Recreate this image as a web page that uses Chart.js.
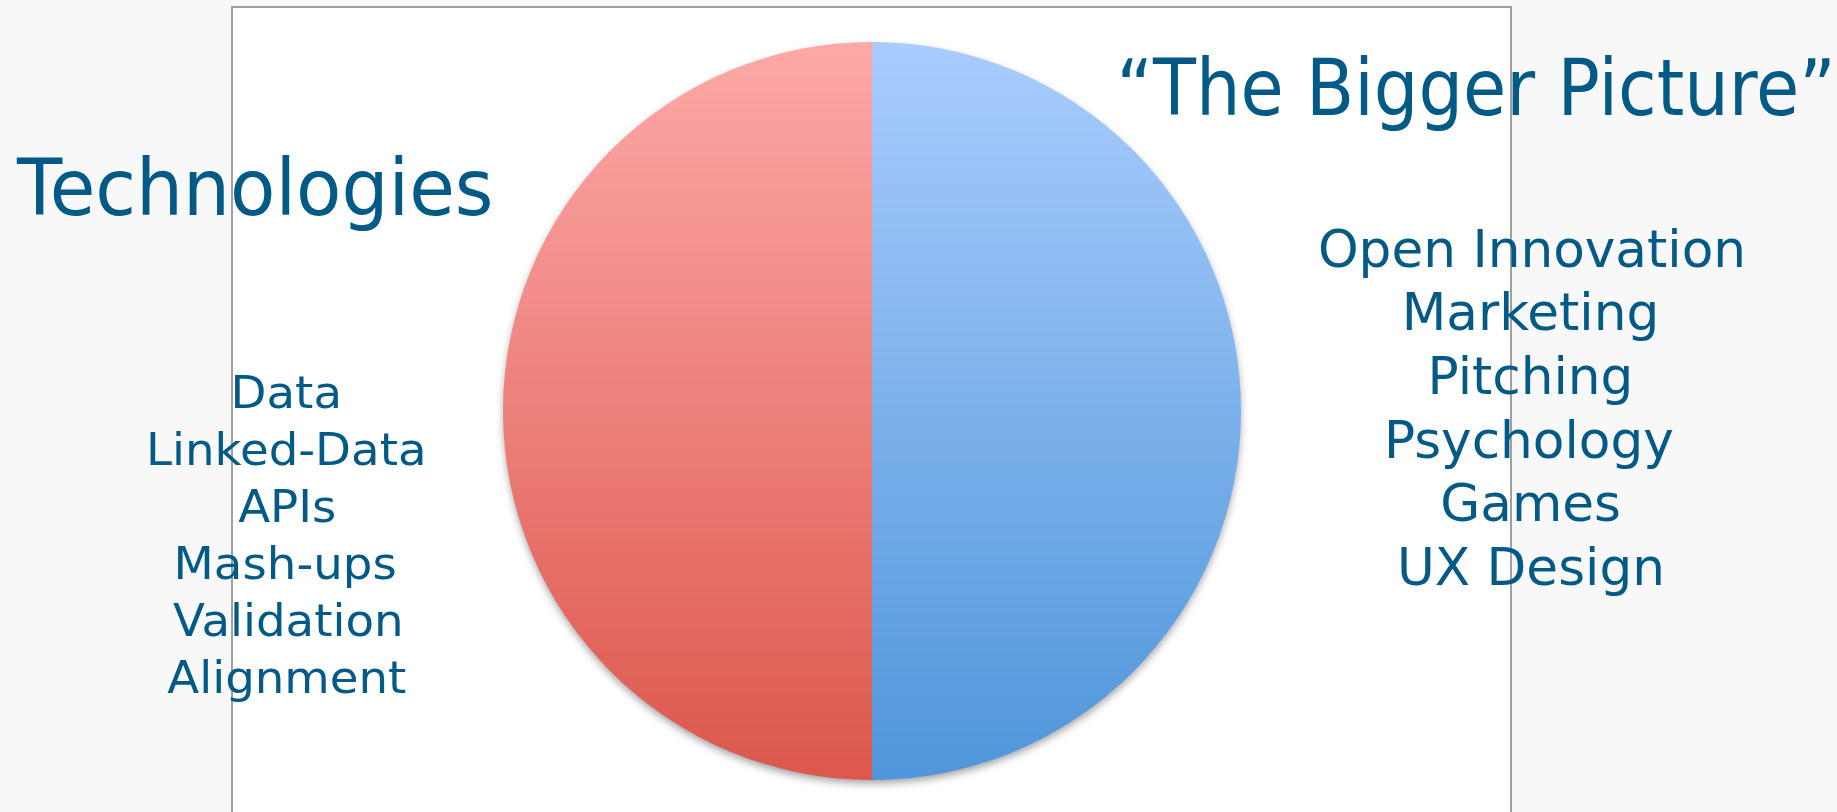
<!DOCTYPE html>
<html>
<head>
<meta charset="utf-8">
<script src="https://cdn.jsdelivr.net/npm/chart.js@4/dist/chart.umd.min.js"></script>
<style>
    html, body { margin: 0; padding: 0; background: #f8f8f8; overflow: hidden; }
    #frame { position: absolute; left: 231px; top: 6px; width: 1277px; height: 900px; background: #ffffff; border: 2px solid #a0a0a0; box-sizing: content-box; }
    #chart { position: absolute; left: 0; top: 0; }
</style>
</head>
<body>
<div id="frame"></div>
<canvas id="chart" width="1837" height="812"></canvas>
<script>
// --- DATA ---
const sliceLabels = ['\u201CThe Bigger Picture\u201D', 'Technologies'];
const sliceValues = [50, 50];
const technologyItems = ['Data', 'Linked-Data', 'APIs', 'Mash-ups', 'Validation', 'Alignment'];
const biggerPictureItems = ['Open Innovation', 'Marketing', 'Pitching', 'Psychology', 'Games', 'UX Design'];

// --- STYLE ---
const textColor = '#035a86';
const topColors = ['#a9ccfd', '#fda9a8'];
const bottomColors = ['#4f96da', '#dc574c'];

// Text blocks (layout only)
const textBlocks = [
    { lines: [sliceLabels[1]], cx: 253, baseline: 215, size: 78, gap: 0, width: 474 },
    { lines: [sliceLabels[0]], cx: 1476, baseline: 114.5, size: 78, gap: 0, width: 708 },
    { lines: technologyItems, cx: 286.5, baseline: 408, size: 45, gap: 57, width: 272.7 },
    { lines: biggerPictureItems, cx: 1530.8, baseline: 266.5, size: 51, gap: 63.7, width: 421.7 }
];

const shadowPlugin = {
    id: 'pieShadow',
    beforeDatasetsDraw(chart) {
        const arc = chart.getDatasetMeta(0).data[0];
        if (!arc) return;
        const ctx = chart.ctx;
        ctx.save();
        ctx.shadowColor = 'rgba(0,0,0,0.4)';
        ctx.shadowBlur = 9;
        ctx.shadowOffsetY = 4;
        ctx.fillStyle = '#dddddd';
        ctx.beginPath();
        ctx.arc(arc.x, arc.y, arc.outerRadius - 1, 0, Math.PI * 2);
        ctx.fill();
        ctx.restore();
    }
};

const textPlugin = {
    id: 'slideText',
    afterDraw(chart) {
        const ctx = chart.ctx;
        textBlocks.forEach(b => {
            ctx.save();
            ctx.font = b.size + 'px "DejaVu Sans"';
            ctx.fillStyle = textColor;
            ctx.textAlign = 'center';
            ctx.textBaseline = 'alphabetic';
            const inkWidths = b.lines.map(l => {
                const m = ctx.measureText(l);
                return m.actualBoundingBoxLeft + m.actualBoundingBoxRight;
            });
            const sx = b.width / Math.max(...inkWidths);
            b.lines.forEach((line, i) => {
                const m = ctx.measureText(line);
                const off = (m.actualBoundingBoxRight - m.actualBoundingBoxLeft) / 2;
                ctx.save();
                ctx.translate(b.cx, b.baseline + i * b.gap);
                ctx.scale(sx, 1);
                ctx.fillText(line, -off, 0);
                ctx.restore();
            });
            ctx.restore();
        });
    }
};

function sliceGradient(context) {
    const area = context.chart.chartArea;
    const i = context.dataIndex;
    if (!area) return topColors[i];
    const g = context.chart.ctx.createLinearGradient(0, area.top, 0, area.bottom);
    g.addColorStop(0, topColors[i]);
    g.addColorStop(1, bottomColors[i]);
    return g;
}

new Chart(document.getElementById('chart'), {
    type: 'pie',
    data: {
        labels: sliceLabels,
        datasets: [{
            data: sliceValues,
            backgroundColor: sliceGradient,
            borderWidth: 0,
            hoverOffset: 0
        }]
    },
    options: {
        responsive: false,
        animation: false,
        layout: { padding: { top: 42, bottom: 32, left: 503, right: 596 } },
        plugins: {
            legend: { display: false },
            tooltip: { enabled: false }
        }
    },
    plugins: [shadowPlugin, textPlugin]
});
</script>
</body>
</html>
